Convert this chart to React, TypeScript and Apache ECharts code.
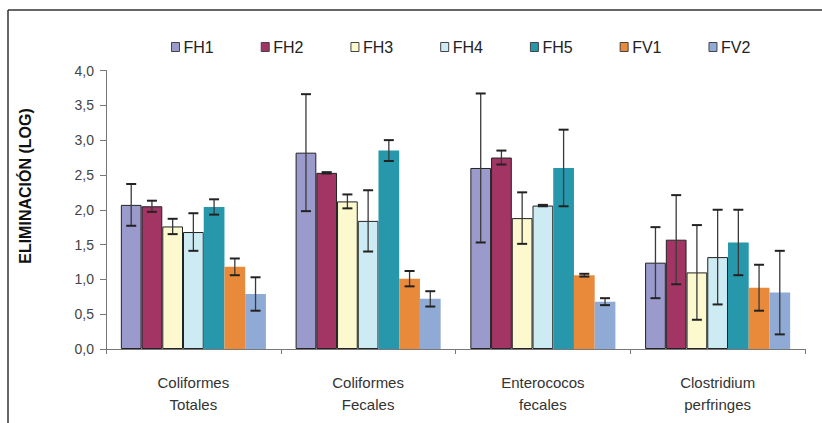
import React, { useEffect, useRef } from "react";
import * as echarts from "echarts";

const categories = ["Coliformes\nTotales", "Coliformes\nFecales", "Enterococos\nfecales", "Clostridium\nperfringes"];
const seriesNames = ["FH1", "FH2", "FH3", "FH4", "FH5", "FV1", "FV2"];
const colors = ["#9a9acc", "#a33564", "#fbf9cd", "#cdebf3", "#2797ab", "#e98a3b", "#8eaad5"];
const bordered = [true, true, true, true, false, false, false];

const FH1 = [2.07, 2.82, 2.6, 1.24];
const FH2 = [2.05, 2.53, 2.75, 1.57];
const FH3 = [1.76, 2.12, 1.88, 1.1];
const FH4 = [1.68, 1.84, 2.06, 1.32];
const FH5 = [2.04, 2.85, 2.6, 1.53];
const FV1 = [1.18, 1.01, 1.06, 0.88];
const FV2 = [0.79, 0.72, 0.68, 0.81];

const FH1err = [0.3, 0.84, 1.07, 0.51];
const FH2err = [0.08, 0.01, 0.1, 0.64];
const FH3err = [0.11, 0.1, 0.37, 0.68];
const FH4err = [0.27, 0.44, 0.01, 0.68];
const FH5err = [0.11, 0.15, 0.55, 0.47];
const FV1err = [0.12, 0.11, 0.02, 0.33];
const FV2err = [0.24, 0.11, 0.05, 0.6];

const values = [FH1, FH2, FH3, FH4, FH5, FV1, FV2];
const errors = [FH1err, FH2err, FH3err, FH4err, FH5err, FV1err, FV2err];

const CAT_GAP = 0.17;

export default function App() {
  const ref = useRef<HTMLDivElement>(null);
  useEffect(() => {
    if (!ref.current) return;
    const chart = echarts.init(ref.current, undefined, { renderer: "svg" });
    const n = seriesNames.length;
    const barSeries: any[] = seriesNames.map((name, i) => ({
      name,
      type: "bar",
      data: values[i],
      barGap: "0%",
      barCategoryGap: CAT_GAP * 100 + "%",
      itemStyle: {
        color: colors[i],
        borderColor: bordered[i] ? "#222" : colors[i],
        borderWidth: bordered[i] ? 1 : 0,
      },
      z: 2,
    }));
    const errSeries: any[] = seriesNames.map((name, i) => ({
      name: name + "_err",
      type: "custom",
      z: 5,
      silent: true,
      data: values[i].map((v, k) => [k, v - errors[i][k], v + errors[i][k]]),
      renderItem: (params: any, api: any) => {
        const k = api.value(0);
        const lo = api.coord([k, api.value(1)]);
        const hi = api.coord([k, api.value(2)]);
        const band = api.size([1, 0])[0];
        const used = band * (1 - CAT_GAP);
        const bw = used / n;
        const x = lo[0] - used / 2 + (i + 0.5) * bw;
        const cap = 5;
        const st = { stroke: "#3a3a3a", lineWidth: 1.3 };
        return {
          type: "group",
          children: [
            { type: "line", shape: { x1: x, y1: lo[1], x2: x, y2: hi[1] }, style: st },
            { type: "line", shape: { x1: x - cap, y1: lo[1], x2: x + cap, y2: lo[1] }, style: { stroke: "#222", lineWidth: 2 } },
            { type: "line", shape: { x1: x - cap, y1: hi[1], x2: x + cap, y2: hi[1] }, style: { stroke: "#222", lineWidth: 2 } },
          ],
        };
      },
    }));
    chart.setOption({
      animation: false,
      backgroundColor: "#fff",
      textStyle: { fontFamily: "Liberation Sans, Arial, sans-serif" },
      legend: {
        data: seriesNames.map((s, i) => ({ name: s, itemStyle: { color: colors[i], borderColor: "#444", borderWidth: 1 } })),
        left: 166,
        top: 34,
        itemWidth: 8,
        itemHeight: 9,
        itemGap: 47,
        icon: "rect",
        textStyle: { fontSize: 16, color: "#222", padding: [0, 0, 0, -1] },
      },
      grid: { left: 106, right: 17, top: 70.5, bottom: 74 },
      xAxis: {
        type: "category",
        data: categories,
        axisLine: { lineStyle: { color: "#777" } },
        axisTick: { show: true, length: 5, lineStyle: { color: "#777" } },
        axisLabel: { fontSize: 15, color: "#333", lineHeight: 22, margin: 22 },
      },
      yAxis: {
        type: "value",
        min: 0,
        max: 4,
        interval: 0.5,
        splitLine: { show: false },
        axisLine: { show: true, lineStyle: { color: "#777" } },
        axisTick: { show: true, length: 6, inside: false, lineStyle: { color: "#777" } },
        axisLabel: {
          fontSize: 14,
          color: "#444",
          margin: 12,
          formatter: (v: number) => v.toFixed(1).replace(".", ","),
        },
      },
      graphic: [
        { type: "line", shape: { x1: 8, y1: 10, x2: 822, y2: 10 }, style: { stroke: "#333", lineWidth: 1.5 } },
        { type: "line", shape: { x1: 8, y1: 10, x2: 8, y2: 423 }, style: { stroke: "#333", lineWidth: 1.5 } },
        {
          type: "text",
          x: 25,
          y: 186,
          rotation: Math.PI / 2,
          style: {
            text: "ELIMINACIÓN (LOG)",
            fontSize: 16,
            fontWeight: "bold",
            fill: "#111",
            align: "center",
            verticalAlign: "middle",
            fontFamily: "Liberation Sans, Arial, sans-serif",
          },
        },
      ],
      series: [...barSeries, ...errSeries],
    });
    return () => chart.dispose();
  }, []);
  return <div ref={ref} style={{ width: 822, height: 423, position: "absolute", left: 0, top: 0 }} />;
}
